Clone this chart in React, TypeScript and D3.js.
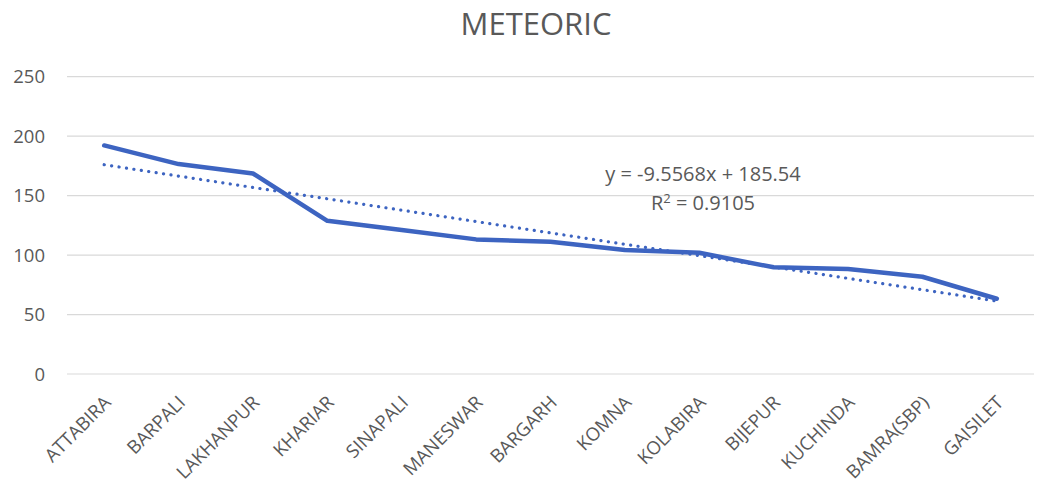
import React from "react";
import * as d3 from "d3";

const categories = ["ATTABIRA","BARPALI","LAKHANPUR","KHARIAR","SINAPALI","MANESWAR","BARGARH","KOMNA","KOLABIRA","BIJEPUR","KUCHINDA","BAMRA(SBP)","GAISILET"];
const values = [192.2,176.5,168.6,128.8,121,113.2,111.2,104.2,101.9,89.7,88.2,81.8,63.3];
const yTicks = [0,50,100,150,200,250];
const TREND_SLOPE = -9.5568;
const TREND_INTERCEPT = 185.54;
const TITLE = "METEORIC";
const EQ_TEXT = "y = -9.5568x + 185.54";
const R2_VALUE = "0.9105";

const W = 1037, H = 489;
const M = { left: 67, right: 1034, top: 76.7, bottom: 374 };
const FONT = "'Open Sans', sans-serif";
const TXT = "#595959";
const BLUE = "#3D64C1";

export default function App() {
  const x = d3.scaleBand<string>().domain(categories).range([M.left, M.right]);
  const cx = (c: string) => (x(c) as number) + x.bandwidth() / 2;
  const y = d3.scaleLinear().domain([0, 250]).range([M.bottom, M.top]);
  const line = d3.line<number>().x((_, i) => cx(categories[i])).y(d => y(d));
  const trendPts = [1, categories.length].map(n => ({ c: categories[n - 1], v: TREND_SLOPE * n + TREND_INTERCEPT }));
  const trendPath = d3.line<{ c: string; v: number }>().x(d => cx(d.c)).y(d => y(d.v))(trendPts);

  return (
    <svg width={W} height={H} style={{ position: "absolute", left: 0, top: 0, background: "#fff" }} fontFamily={FONT}>
      <rect width={W} height={H} fill="#fff" />
      <text x={536} y={35} textAnchor="middle" fontSize={31} fill={TXT}>{TITLE}</text>
      {yTicks.map(t => (
        <g key={t}>
          <line x1={M.left} x2={M.right} y1={y(t)} y2={y(t)} stroke="#d9d9d9" strokeWidth={1.2} />
          <text x={45} y={y(t)} dy="0.36em" textAnchor="end" fontSize={18.5} fill={TXT}>{t}</text>
        </g>
      ))}
      {categories.map(c => (
        <text key={c} transform={`translate(${cx(c) + 3},${M.bottom + 25}) rotate(-45)`} textAnchor="end" dy="0.36em" fontSize={18.5} fill={TXT}>{c}</text>
      ))}
      <path d={trendPath || ""} fill="none" stroke={BLUE} strokeWidth={3.2} strokeDasharray="0.1 7.4" strokeLinecap="round" />
      <path d={line(values) || ""} fill="none" stroke={BLUE} strokeWidth={4.5} strokeLinejoin="round" strokeLinecap="round" />
      <text x={703} y={181} textAnchor="middle" fontSize={20} fill={TXT}>{EQ_TEXT}</text>
      <text x={703} y={210} textAnchor="middle" fontSize={20} fill={TXT}>
        R<tspan fontSize={13} dy={-7.5}>2</tspan><tspan dy={7.5}>{" = " + R2_VALUE}</tspan>
      </text>
    </svg>
  );
}
